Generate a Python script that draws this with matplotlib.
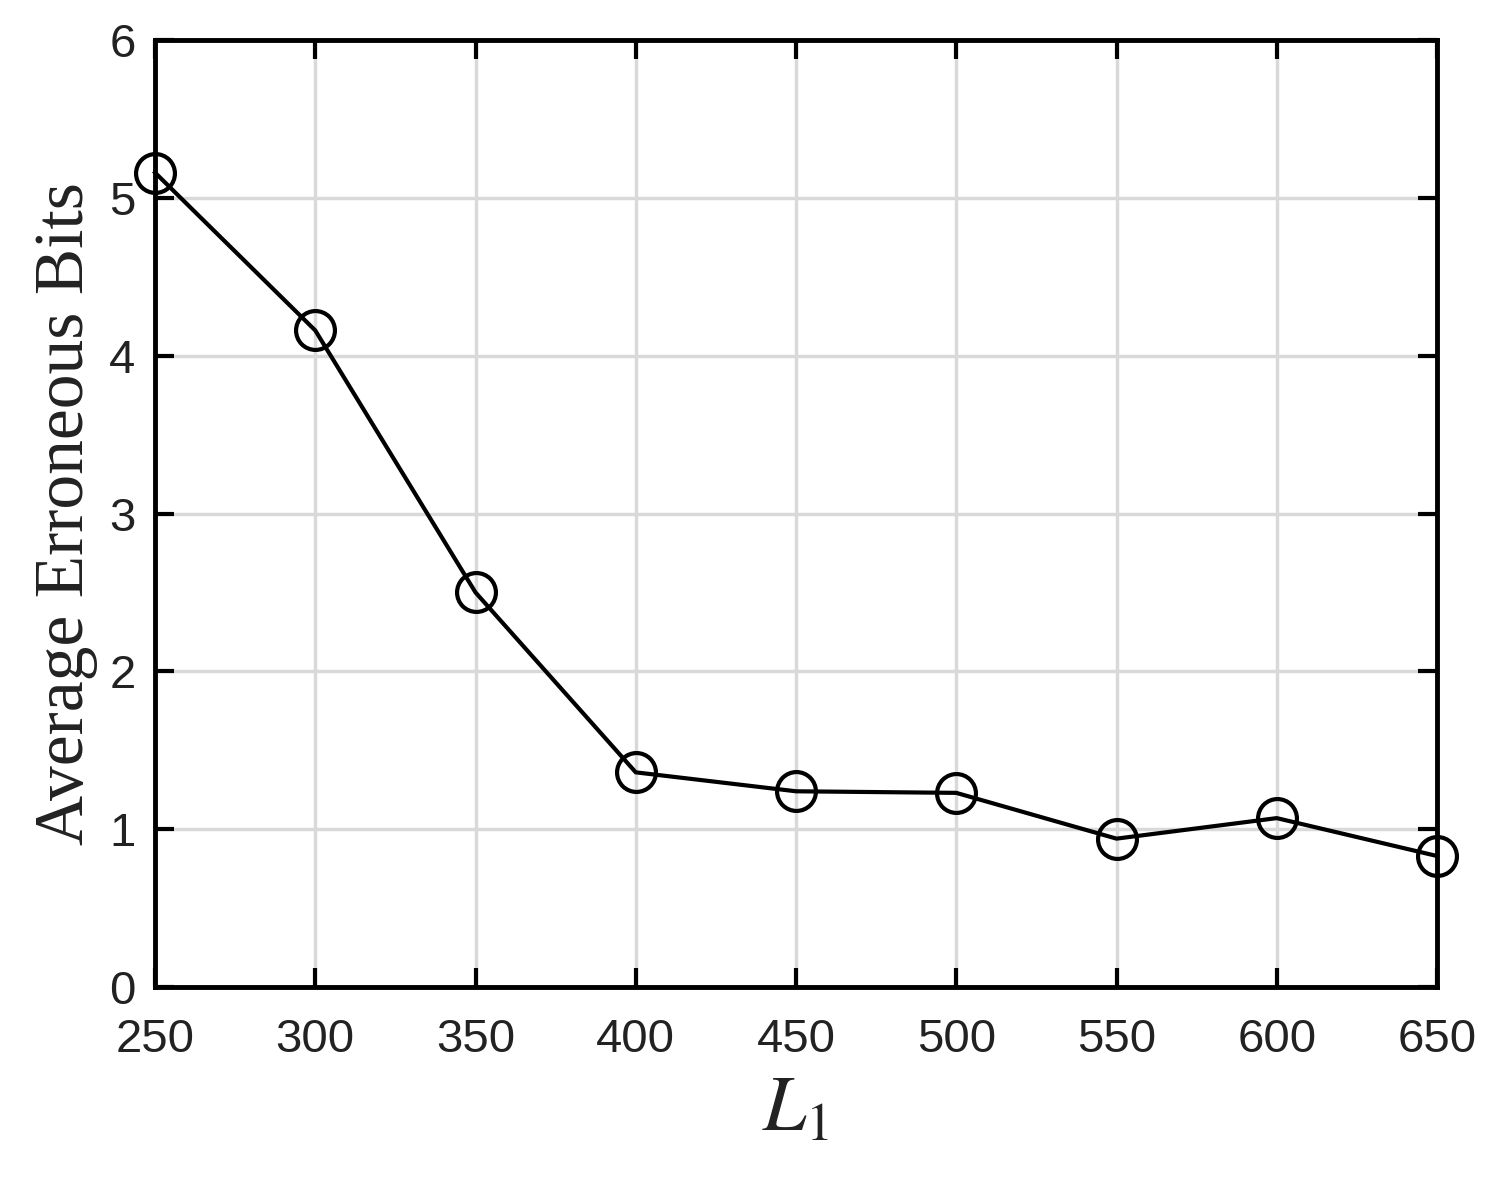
import matplotlib
matplotlib.use("Agg")
import matplotlib.pyplot as plt

plt.rcParams['mathtext.fontset'] = 'stix'

L1 = [250, 300, 350, 400, 450, 500, 550, 600, 650]
avg_err_bits = [5.16, 4.16, 2.50, 1.36, 1.24, 1.23, 0.94, 1.07, 0.83]

fig = plt.figure(figsize=(15.08, 12.04), dpi=100)
ax = fig.add_axes([155/1508, 1-987/1204, (1437-155)/1508, (987-40)/1204])

ax.plot(L1, avg_err_bits, color='black', linewidth=3, marker='o',
        markersize=28, markerfacecolor='none', markeredgewidth=3, clip_on=False, zorder=5)

ax.set_xlim(250, 650)
ax.set_ylim(0, 6)
ax.set_xticks(L1)
ax.set_yticks(range(0, 7))
ax.grid(True, color='#d9d9d9', linewidth=2.5)
ax.tick_params(direction='in', length=14, width=3, labelsize=34,
               top=True, right=True)
ax.tick_params(axis='x', pad=22)
ax.tick_params(axis='y', pad=14)
for lab in ax.get_xticklabels() + ax.get_yticklabels():
    lab.set_fontfamily('Liberation Sans')
    lab.set_color('#222222')
for s in ax.spines.values():
    s.set_linewidth(3.5)

ax.set_ylabel('Average Erroneous Bits', fontsize=50, family='Liberation Serif',
              color='#222222', labelpad=8)
ax.set_xlabel(r'$\mathit{L}_{\mathit{1}}$', fontsize=56, labelpad=6, color='#222222')

fig.savefig('out.png', dpi=100)
